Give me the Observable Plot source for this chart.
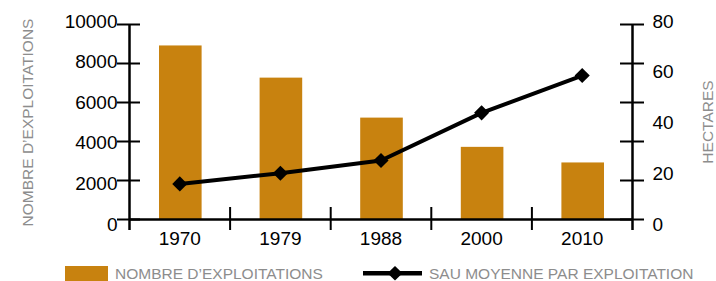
<!DOCTYPE html>
<html>
<head>
<meta charset="utf-8">
<script src="https://cdn.jsdelivr.net/npm/d3@7"></script>
<script src="https://cdn.jsdelivr.net/npm/@observablehq/plot@0.6"></script>
<style>
  html, body { margin: 0; padding: 0; background: #fff; }
  #wrap { position: relative; width: 716px; height: 281px; overflow: hidden; font-family: "Liberation Sans", Arial, sans-serif; }
  g[aria-label="num"] text { letter-spacing: 1px; }
  .lg { position: absolute; top: 266px; font-size: 15.5px; line-height: 15.5px; color: #8d8d8d; white-space: nowrap; }
</style>
</head>
<body>
<div id="wrap"></div>
<script>
// ---- data ----
const years = ["1970", "1979", "1988", "2000", "2010"];
const farms = [8900, 7250, 5200, 3700, 2900];          // nombre d'exploitations
const sau = [16, 20.2, 25.2, 44, 58.7];                 // SAU moyenne (hectares)
const leftTicks = [0, 2000, 4000, 6000, 8000, 10000];
const rightTicks = [0, 20, 40, 60, 80];
const leftTitle = "NOMBRE D\u2019EXPLOITATIONS";
const rightTitle = "HECTARES";
const legendBar = "NOMBRE D\u2019EXPLOITATIONS";
const legendLine = "SAU MOYENNE PAR EXPLOITATION";

const barColor = "#c8820f";
const gray = "#8d8d8d";

const data = years.map((year, i) => ({year, i, farms: farms[i], sau: sau[i]}));

// secondary (hectares) axis expressed in primary units
const ha = v => v * 130.1 - 256;
const leftLabelY = u => u * 1.04 - 256;

const chart = Plot.plot({
  width: 716,
  height: 256,
  marginTop: 24,
  marginBottom: 37,
  marginLeft: 129,
  marginRight: 84,
  style: {fontFamily: "'Liberation Sans', Arial, sans-serif", background: "transparent"},
  x: {domain: [0, years.length], axis: null},
  y: {domain: [0, 10000], axis: null},
  marks: [
    Plot.rectY(data, {x1: d => d.i, x2: d => d.i + 1, y: "farms", fill: barColor, insetLeft: 30, insetRight: 28}),
    // axis lines
    Plot.ruleY([0], {stroke: "#000", strokeWidth: 2.5}),
    Plot.ruleX([0, years.length], {stroke: "#000", strokeWidth: 2.5, insetBottom: -11}),
    // x boundary ticks
    Plot.axisX({ticks: d3.range(1, years.length), tickSize: 23, dy: -12, tickFormat: () => "", strokeWidth: 2, label: null}),
    // year labels
    Plot.axisX({ariaLabel: "num", ticks: years.map((_, i) => i + 0.5), tickSize: 0, tickPadding: 12,
      tickFormat: d => years[Math.floor(d)], fontSize: 19, fill: "#000", label: null}),
    // left ticks and labels
    Plot.axisY({anchor: "left", ticks: leftTicks, tickSize: 23, dx: 11, tickFormat: () => "", strokeWidth: 2, label: null}),
    Plot.text(leftTicks, {ariaLabel: "num", frameAnchor: "left", y: leftLabelY, text: d => String(d),
      textAnchor: "end", dx: -12, fontSize: 19, fill: "#000"}),
    // right ticks and labels
    Plot.axisY({anchor: "right", ticks: leftTicks, tickSize: 24, dx: -13, tickFormat: () => "", strokeWidth: 2, label: null}),
    Plot.text(rightTicks, {ariaLabel: "num", frameAnchor: "right", y: ha, text: d => String(d),
      textAnchor: "start", dx: 20, fontSize: 19, fill: "#000"}),
    // axis titles
    Plot.text([leftTitle], {frameAnchor: "left", text: d => d, rotate: -90, textAnchor: "middle", dx: -101.5, dy: 0.5, fontSize: 15.5, fill: gray}),
    Plot.text([rightTitle], {frameAnchor: "right", text: d => d, rotate: -90, textAnchor: "middle", dx: 76, fontSize: 15.5, fill: gray}),
    // line series
    Plot.line(data, {x: d => d.i + 0.5, y: d => ha(d.sau), stroke: "#000", strokeWidth: 4}),
    Plot.dot(data, {x: d => d.i + 0.5, y: d => ha(d.sau), symbol: "diamond2", r: 6.8, fill: "#000", stroke: "none"})
  ]
});

const wrap = document.getElementById("wrap");
wrap.appendChild(chart);

// legend
const sw = document.createElement("div");
sw.style.cssText = `position:absolute;left:65px;top:266px;width:43px;height:15px;background:${barColor}`;
wrap.appendChild(sw);
const t1 = document.createElement("div");
t1.className = "lg"; t1.style.left = "115px"; t1.textContent = legendBar;
wrap.appendChild(t1);
const ls = d3.create("svg").attr("width", 60).attr("height", 16)
  .style("position", "absolute").style("left", "363px").style("top", "266px");
ls.append("line").attr("x1", 0).attr("x2", 59).attr("y1", 7.3).attr("y2", 7.3).attr("stroke", "#000").attr("stroke-width", 4.5);
ls.append("path").attr("d", "M32,0 L39.5,7.3 L32,14.6 L24.5,7.3 Z").attr("fill", "#000");
wrap.appendChild(ls.node());
const t2 = document.createElement("div");
t2.className = "lg"; t2.style.left = "429px"; t2.textContent = legendLine;
wrap.appendChild(t2);
</script>
</body>
</html>
